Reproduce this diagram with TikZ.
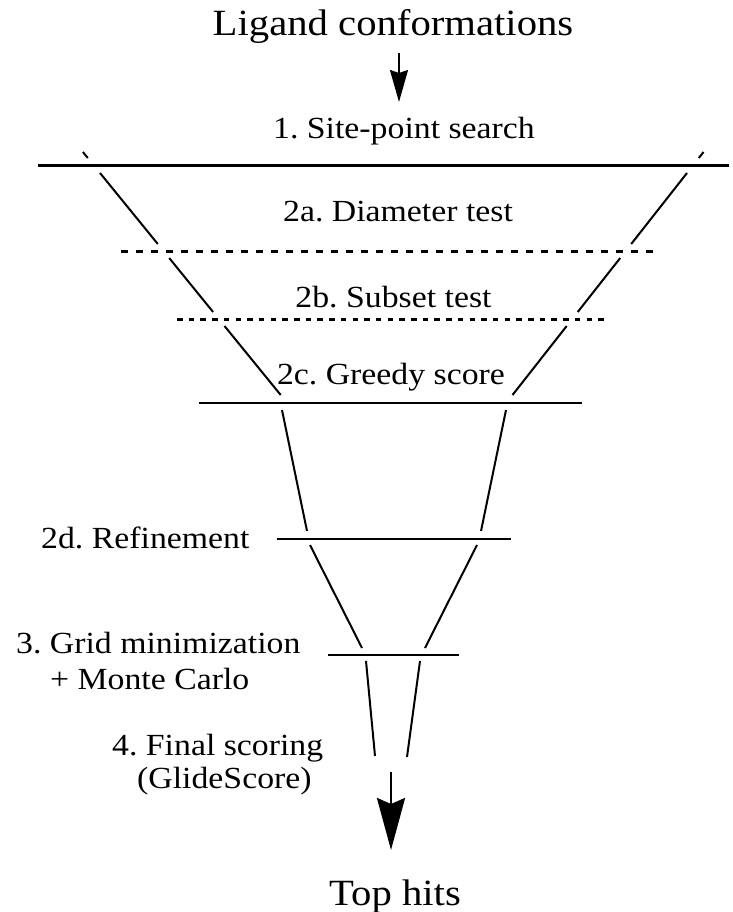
\documentclass[tikz,border=0pt]{standalone}
\usepackage{graphicx}
\usepackage{fontspec}
\setmainfont{Liberation Serif}
\usetikzlibrary{arrows.meta}
\newcommand\sx[1]{\scalebox{1.1}[1]{#1}}
\tikzset{
  lab/.style={font=\fontsize{30.7}{36}\selectfont, inner sep=0pt},
  big/.style={font=\fontsize{37}{44}\selectfont, inner sep=0pt},
  funnel/.style={line width=2pt},
  bar/.style={line width=2.5pt},
  topbar/.style={line width=3pt},
  dbarA/.style={line width=3pt, dash pattern=on 7pt off 8pt},
  dbarB/.style={line width=3pt, dash pattern=on 5.5pt off 6.2pt},
  arrA/.style={line width=2pt, -{Stealth[length=32pt, width=18pt, inset=3pt]}},
  arrB/.style={line width=2.6pt, -{Stealth[length=52pt, width=28pt, inset=6pt]}}
}
\begin{document}
\frenchspacing
\begin{tikzpicture}[x=1pt, y=-1pt]
\useasboundingbox (0,0) rectangle (732,912);
\fill[white] (0,0) rectangle (732,912);

% texts
\node[big, anchor=base] (title) at (393,36) {\sx{Ligand conformations}};
\node[lab, anchor=base] (site) at (404,139) {\sx{1. Site-point search}};
\node[lab, anchor=base] (diam) at (398,221) {\sx{2a. Diameter test}};
\node[lab, anchor=base] (subset) at (393.5,307) {\sx{2b. Subset test}};
\node[lab, anchor=base] (greedy) at (391,384) {\sx{2c. Greedy score}};
\node[lab, anchor=base west] (refine) at (41,548) {\sx{2d. Refinement}};
\node[lab, anchor=base west] (grid) at (16,653) {\sx{3. Grid minimization}};
\node[lab, anchor=base west] (monte) at (50,689) {\sx{+ Monte Carlo}};
\node[lab, anchor=base west] (final) at (112,755) {\sx{4. Final scoring}};
\node[lab, anchor=base west] (glide) at (137,788) {\sx{(GlideScore)}};
\node[big, anchor=base] (top) at (395,905) {\sx{Top hits}};

% arrows
\coordinate (a1s) at (399,53);
\coordinate (a1e) at (399,102);
\draw[arrA] (a1s) -- (a1e);
\coordinate (a2s) at (391,772);
\coordinate (a2e) at (391,850);
\draw[arrB] (a2s) -- (a2e);

% horizontal bars
\coordinate (h1l) at (38,166);  \coordinate (h1r) at (729,166);
\coordinate (h2l) at (121,251); \coordinate (h2r) at (656,251);
\coordinate (h3l) at (177,319); \coordinate (h3r) at (606,319);
\coordinate (h4l) at (199,403); \coordinate (h4r) at (582,403);
\coordinate (h5l) at (277,539); \coordinate (h5r) at (511,539);
\coordinate (h6l) at (328,655); \coordinate (h6r) at (459,655);
\draw[topbar] (h1l) -- (h1r);
\draw[dbarA] (h2l) -- (h2r);
\draw[dbarB] (h3l) -- (h3r);
\draw[bar] (h4l) -- (h4r);
\draw[bar] (h5l) -- (h5r);
\draw[bar] (h6l) -- (h6r);

% funnel, upper part (left)
\draw[funnel] (82.9,152) -- (87.8,158);
\draw[funnel] (100,173) -- (157.8,244);
\draw[funnel] (169.2,258) -- (213.1,312);
\draw[funnel] (224.5,326) -- (280.7,395);
% funnel, upper part (right)
\draw[funnel] (703.5,152) -- (698.8,158);
\draw[funnel] (687,173) -- (631.2,244);
\draw[funnel] (620.2,258) -- (577.7,312);
\draw[funnel] (566.7,326) -- (512.5,395);
% middle
\draw[funnel] (282,410) -- (307,531);
\draw[funnel] (506,410) -- (481,531);
% lower
\draw[funnel] (310,545) -- (362,648);
\draw[funnel] (477,545) -- (425,648);
% bottom
\draw[funnel] (366,661) -- (375,756);
\draw[funnel] (420,661) -- (407,757);
\end{tikzpicture}
\end{document}
